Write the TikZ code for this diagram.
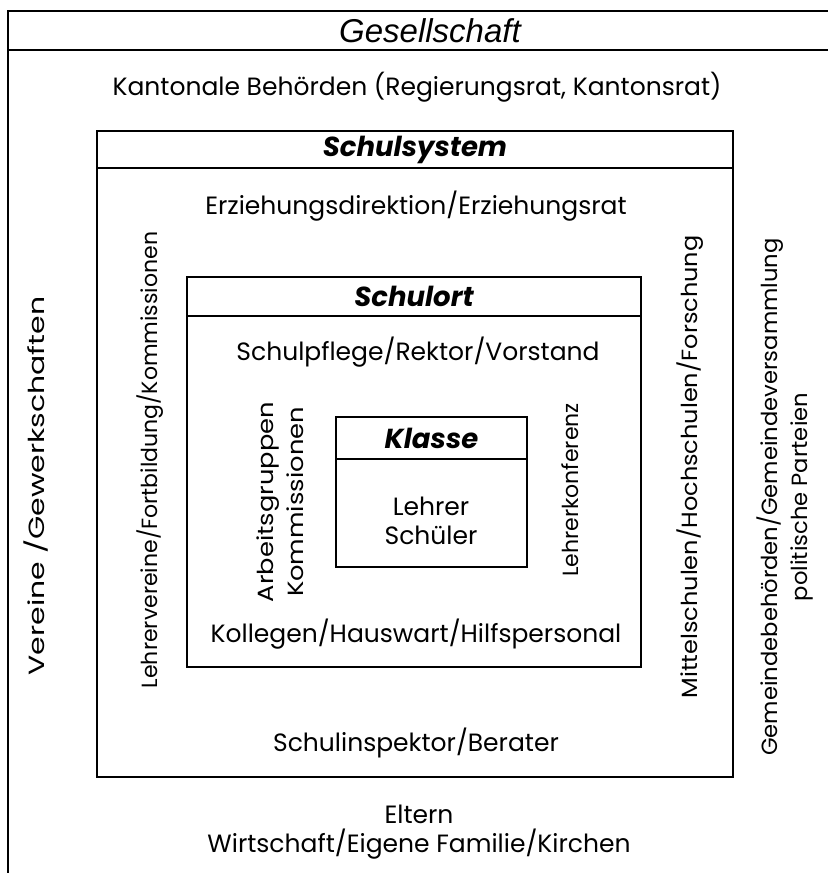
\documentclass[tikz,border=0pt]{standalone}
\usepackage{fontspec}
\setmainfont{Poppins}
\newfontfamily\headfont{Liberation Sans}
\usepackage{tikz}
\usetikzlibrary{positioning, calc, shadows}
\definecolor{framegray}{HTML}{9A9A9A}

\tikzset{
  frame/.style={draw, line width=1.6pt, fill=white, drop shadow={shadow xshift=1.2pt, shadow yshift=-1.2pt, fill=framegray, opacity=1}},
  headbox/.style={draw, line width=1.6pt, inner sep=0pt, font=\fontsize{27.5}{27.5}\selectfont\bfseries\itshape},
  label/.style={font=\fontsize{25}{29}\selectfont, align=center, inner sep=0pt},
  sidelabel/.style={font=\fontsize{22}{30}\selectfont, align=center, inner sep=0pt, rotate=90}
}

\begin{document}
\begin{tikzpicture}[x=1pt, y=1pt]
  \useasboundingbox (0,0) rectangle (828,-873);

  % Outer frame (Gesellschaft)
  \draw[line width=1.6pt] (8,-873) -- (8,-11) -- (828,-11);
  \draw[line width=1.6pt] (8,-50) -- (828,-50);
  \node[font=\fontsize{33}{33}\selectfont\headfont\itshape] (gesellschaft) at (430,-31) {Gesellschaft};
  \node[label] (kanton) at (417,-87) {Kantonale Behörden (Regierungsrat, Kantonsrat)};
  \node[label] (eltern) at (419,-832) {Eltern\\Wirtschaft/Eigene Familie/Kirchen};
  \node[sidelabel, xscale=1.36] (vereine) at (36,-486) {Vereine /Gewerkschaften};
  \node[sidelabel, xscale=1.03] (gemeinde) at (785,-497) {Gemeindebehörden/Gemeindeversammlung\\politische Parteien};

  % Schulsystem
  \node[frame, minimum width=636, minimum height=646] (sys) at (415,-454) {};
  \node[headbox, minimum width=636, minimum height=37, anchor=north] (systitle) at (sys.north) {Schulsystem};
  \node[label] (erz) at (416,-206) {Erziehungsdirektion/Erziehungsrat};
  \node[label] (inspektor) at (416,-743) {Schulinspektor/Berater};
  \node[sidelabel] (lehrerver) at (150,-460) {Lehrervereine/Fortbildung/Kommissionen};
  \node[sidelabel, xscale=1.09] (mittel) at (690,-467) {Mittelschulen/Hochschulen/Forschung};

  % Schulort
  \node[frame, minimum width=454, minimum height=390] (ort) at (414,-472) {};
  \node[headbox, minimum width=454, minimum height=39, anchor=north] (orttitle) at (ort.north) {Schulort};
  \node[label] (pflege) at (418,-352) {Schulpflege/Rektor/Vorstand};
  \node[label] (kollegen) at (416,-634) {Kollegen/Hauswart/Hilfspersonal};
  \node[sidelabel, xscale=1.17] (arbeit) at (280,-502) {Arbeitsgruppen\\Kommissionen};
  \node[sidelabel] (konferenz) at (570,-490) {Lehrerkonferenz};

  % Klasse
  \node[frame, minimum width=191, minimum height=150] (klasse) at (431.5,-492) {};
  \node[headbox, minimum width=191, minimum height=42, anchor=north] (klassetitle) at (klasse.north) {Klasse};
  \node[label] (lehrer) at (431,-521) {Lehrer\\Schüler};
\end{tikzpicture}
\end{document}
